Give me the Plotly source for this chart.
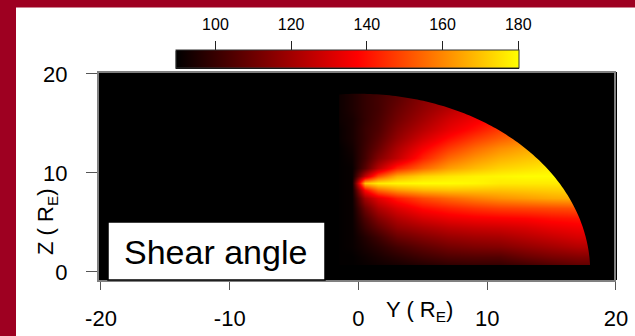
import numpy as np
import plotly.graph_objects as go

# Magnetic shear angle (degrees) across the dayside magnetopause, projected on the Y-Z plane.
# Grid nodes in Earth radii; rows follow Z_NODES (ascending), columns follow Y_NODES.
Y_NODES = [-1.5, -0.5, 0.5, 1.5, 3, 5, 7, 9, 11, 13, 15, 17, 18.5]
Z_NODES = [0.5, 1.5, 2.5, 3.5, 4.5, 5.5, 6.5, 7.5, 8.25, 9, 9.75, 10.5,
           11.5, 12.5, 13.5, 14.5, 15.5, 16.5, 17.5, 18.5]
SHEAR_ANGLE = [
    [90, 90, 91, 92, 93, 95, 97, 98, 98, 100, 103, 106, 106],
    [90, 90, 92, 94, 97, 101, 104, 105, 105, 109, 112, 114, 114],
    [90, 91, 94, 97, 102, 107, 111, 113, 114, 117, 120, 123, 123],
    [90, 91, 96, 101, 109, 114, 118, 120, 121, 124, 127, 130, 130],
    [90, 91, 100, 107, 116, 121, 125, 127, 128, 130, 133, 135, 135],
    [90, 91, 104, 114, 123, 130, 134, 136, 137, 138, 140, 141, 141],
    [90, 91, 110, 122, 131, 139, 143, 146, 148, 149, 150, 151, 151],
    [90, 91, 120, 132, 142, 150, 155, 159, 162, 164, 166, 167, 167],
    [90, 91, 138, 155, 163, 168, 170, 170, 170, 171, 172, 173, 173],
    [90, 91, 170, 177, 179, 180, 180, 179, 177, 177, 177, 177, 177],
    [90, 91, 125, 150, 166, 173, 176, 178, 179, 180, 180, 180, 180],
    [90, 91, 106, 124, 143, 155, 164, 169, 173, 175, 177, 178, 178],
    [90, 92, 102, 114, 126, 143, 155, 162, 167, 170, 172, 174, 175],
    [90, 93, 101, 109, 122, 136, 147, 155, 161, 165, 168, 170, 171],
    [91, 94, 100, 106, 117, 129, 139, 147, 153, 158, 163, 166, 168],
    [91, 94, 100, 104, 114, 124, 133, 140, 147, 152, 156, 160, 162],
    [92, 94, 99, 103, 111, 120, 129, 135, 140, 145, 150, 154, 156],
    [92, 95, 99, 102, 109, 117, 124, 131, 136, 141, 145, 149, 151],
    [92, 95, 99, 102, 107, 115, 121, 127, 132, 137, 141, 145, 147],
    [92, 95, 99, 101, 106, 113, 119, 125, 130, 134, 138, 142, 145],
]

# Extent of the model surface (R_E)
R_DOMAIN = 18.0
Y_EDGE = -1.5
Z_EDGE = 0.7

Y_TICKS = [-20, -10, 0, 10, 20]
Z_TICKS = [0, 10, 20]
CBAR_TICKS = [100, 120, 140, 160, 180]
ANGLE_MIN, ANGLE_MAX = 89.5, 180.2

X_RANGE = [-20.23, 20.08]
Z_RANGE = [-0.81, 20.2]

W, H = 635, 336
ML, MR, MT, MB = 98, 18, 20, 56
PW, PH = W - ML - MR, H - MT - MB
FONT = "Liberation Sans, Arial, sans-serif"
RED_FRAME = "#9e0021"


def px_x(px):
    return (px - ML) / PW


def px_y(py):
    return (H - MB - py) / PH


heat_scale = [[0.0, "#000000"], [0.529, "#ff0000"], [1.0, "#ffff00"]]

fig = go.Figure()
fig.add_trace(go.Heatmap(
    x=Y_NODES, y=Z_NODES, z=SHEAR_ANGLE,
    zsmooth="best", colorscale=heat_scale, zmin=ANGLE_MIN, zmax=ANGLE_MAX,
    hoverinfo="skip",
    colorbar=dict(
        orientation="h", x=px_x(347.4), xanchor="center",
        len=(519 - 175.7) / PW, lenmode="fraction",
        y=px_y(69), yanchor="bottom", thickness=18,
        xpad=0, ypad=0, outlinecolor="#333333", outlinewidth=1,
        ticks="", showticklabels=False,
    ),
))
# empty trace that carries the colour-bar scale axis
fig.add_trace(go.Scatter(x=[], y=[], xaxis="x2", yaxis="y2",
                         mode="markers", hoverinfo="skip", showlegend=False))

# Black mask outside the model surface (quarter disc, cut at Y_EDGE and Z_EDGE)
top_ang = np.arctan2(np.sqrt(R_DOMAIN**2 - Y_EDGE**2), Y_EDGE)
bot_ang = np.arctan2(Z_EDGE, np.sqrt(R_DOMAIN**2 - Z_EDGE**2))
arc = np.linspace(top_ang, bot_ang, 120)
pts = [(Y_EDGE, Z_EDGE)] + [(R_DOMAIN * np.cos(a), R_DOMAIN * np.sin(a)) for a in arc]
inner = "M " + " L ".join(f"{p[0]:.4f},{p[1]:.4f}" for p in pts) + " Z"
outer = (f"M {X_RANGE[0]},{Z_RANGE[0]} L {X_RANGE[1]},{Z_RANGE[0]} "
         f"L {X_RANGE[1]},{Z_RANGE[1]} L {X_RANGE[0]},{Z_RANGE[1]} Z")

shapes = [
    dict(type="path", xref="x", yref="y", path=outer + " " + inner,
         fillcolor="black", fillrule="evenodd", line=dict(width=0), layer="above"),
    # plot frame
    dict(type="rect", xref="paper", yref="paper",
         x0=px_x(98), x1=px_x(615), y0=px_y(281), y1=px_y(72),
         line=dict(color="#808080", width=2), layer="above"),
    # label box
    dict(type="rect", xref="paper", yref="paper",
         x0=px_x(108), x1=px_x(325), y0=px_y(280), y1=px_y(222),
         fillcolor="white", line=dict(color="black", width=1.5), layer="above"),
    # dark red page border
    dict(type="rect", xref="paper", yref="paper",
         x0=px_x(0), x1=px_x(W), y0=px_y(7.5), y1=px_y(0),
         fillcolor=RED_FRAME, line=dict(width=0), layer="above"),
    dict(type="rect", xref="paper", yref="paper",
         x0=px_x(0), x1=px_x(16), y0=px_y(H), y1=px_y(0),
         fillcolor=RED_FRAME, line=dict(width=0), layer="above"),
]

annotations = [
    dict(text="Shear angle", xref="paper", yref="paper", x=px_x(215.5), y=px_y(252),
         xanchor="center", yanchor="middle", showarrow=False,
         font=dict(family=FONT, size=34, color="black")),
    dict(text="Z ( R<sub>E</sub>)", xref="paper", yref="paper", x=px_x(47), y=px_y(222),
         xanchor="center", yanchor="middle", textangle=-90, showarrow=False,
         font=dict(family=FONT, size=22, color="black")),
    dict(text="Y ( R<sub>E</sub>)", xref="paper", yref="paper", x=px_x(419.5), y=px_y(311),
         xanchor="center", yanchor="middle", showarrow=False,
         font=dict(family=FONT, size=22, color="black")),
]

axis_common = dict(showline=False, showgrid=False, zeroline=False, automargin=False,
                   ticks="outside", tickwidth=1)

fig.update_layout(
    template="none",
    width=W, height=H,
    margin=dict(l=ML, r=MR, t=MT, b=MB, autoexpand=False),
    paper_bgcolor="white", plot_bgcolor="black",
    showlegend=False,
    font=dict(family=FONT, color="black"),
    xaxis=dict(range=X_RANGE, domain=[0, 1], tickvals=Y_TICKS,
               ticktext=[str(v) for v in Y_TICKS],
               ticklen=9, tickcolor="#555555",
               tickfont=dict(size=22), ticklabelstandoff=10, anchor="y", **axis_common),
    yaxis=dict(range=Z_RANGE, domain=[0, px_y(72)], tickvals=Z_TICKS,
               ticktext=[str(v) for v in Z_TICKS],
               ticklen=11, tickcolor="#555555",
               tickfont=dict(size=22), ticklabelstandoff=14, anchor="x", **axis_common),
    # scale for the colour bar, ticks on top
    xaxis2=dict(range=[ANGLE_MIN, ANGLE_MAX], domain=[px_x(175.7), px_x(519)],
                anchor="y2", side="top", tickvals=CBAR_TICKS,
                ticktext=[str(v) for v in CBAR_TICKS],
                ticklen=9.5, tickcolor="#222222",
                tickfont=dict(size=16), ticklabelstandoff=4, **axis_common),
    yaxis2=dict(range=[0, 1], domain=[px_y(69), px_y(51)], anchor="x2",
                visible=False, showgrid=False, zeroline=False),
    shapes=shapes,
    annotations=annotations,
)

fig.write_html("out.html")
